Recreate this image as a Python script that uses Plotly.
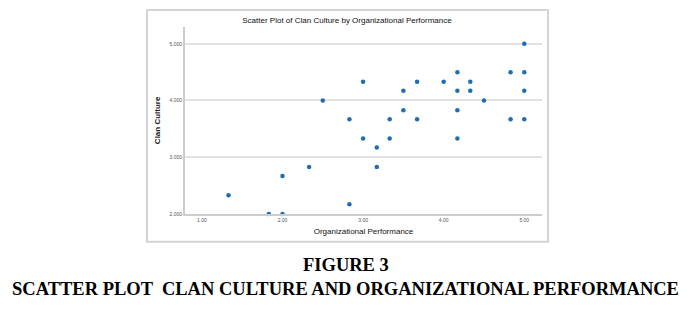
import plotly.graph_objects as go

org_perf = [1.33, 1.83, 2.00, 2.00, 2.33, 2.50, 2.83, 2.83, 3.00, 3.00,
            3.17, 3.17, 3.33, 3.33, 3.50, 3.50, 3.67, 3.67, 4.00, 4.17,
            4.17, 4.17, 4.17, 4.33, 4.33, 4.50, 4.83, 4.83, 5.00, 5.00,
            5.00, 5.00]
clan_culture = [2.33, 2.00, 2.00, 2.67, 2.83, 4.00, 3.67, 2.17, 4.33, 3.33,
                3.17, 2.83, 3.67, 3.33, 4.17, 3.83, 4.33, 3.67, 4.33, 4.50,
                4.17, 3.83, 3.33, 4.33, 4.17, 4.00, 4.50, 3.67, 5.00, 4.50,
                4.17, 3.67]

x_ticks = [1.0, 2.0, 3.0, 4.0, 5.0]
x_tick_labels = ["1.00", "2.00", "3.00", "4.00", "5.00"]
y_ticks = [2.0, 3.0, 4.0, 5.0]
y_tick_labels = ["2.000", "3.000", "4.000", "5.000"]

W, H = 689, 319

def px_x(p):
    return p / W

def px_y(p):
    return 1 - p / H

fig = go.Figure()
fig.add_trace(go.Scatter(
    x=org_perf, y=clan_culture, mode="markers",
    marker=dict(color="#1f6db3", size=4.5, line=dict(width=0)),
    cliponaxis=False, showlegend=False, hoverinfo="x+y",
))

fig.update_layout(
    width=W, height=H,
    margin=dict(l=0, r=0, t=0, b=0),
    paper_bgcolor="white", plot_bgcolor="white",
    xaxis=dict(
        domain=[px_x(185), px_x(542)], range=[0.79, 5.22],
        tickvals=x_ticks, ticktext=x_tick_labels,
        showgrid=False, zeroline=False,
        showline=True, linecolor="#cccccc", linewidth=2,
        ticks="", tickfont=dict(family="Arial, Liberation Sans", size=5, color="#555"),
        title=dict(text="Organizational Performance", standoff=6,
                   font=dict(family="Arial, Liberation Sans", size=8, color="#111")),
    ),
    yaxis=dict(
        domain=[px_y(216), px_y(27)], range=[2.0, 5.3],
        tickvals=y_ticks, ticktext=y_tick_labels,
        showgrid=True, gridcolor="#e2e2e2", gridwidth=1.5,
        zeroline=False,
        showline=True, linecolor="#cccccc", linewidth=2,
        ticks="", tickfont=dict(family="Arial, Liberation Sans", size=5, color="#555"),
        title=dict(text="<b>Clan Culture</b>", standoff=8,
                   font=dict(family="Arial, Liberation Sans", size=8, color="#222")),
    ),
    title=dict(text="Scatter Plot of Clan Culture by Organizational Performance",
               x=px_x(347), y=px_y(20), xanchor="center", yanchor="middle",
               font=dict(family="Arial, Liberation Sans", size=8, color="#111")),
    shapes=[dict(type="rect", xref="paper", yref="paper",
                 x0=px_x(147), x1=px_x(548), y0=px_y(244), y1=px_y(10),
                 line=dict(color="#d4d4d4", width=2), layer="below")],
    annotations=[
        dict(text="<b>FIGURE 3</b>", xref="paper", yref="paper",
             x=px_x(346), y=px_y(268), xanchor="center", yanchor="middle",
             showarrow=False,
             font=dict(family="Liberation Serif, Times New Roman", size=18.5, color="black")),
        dict(text="<b>SCATTER PLOT  CLAN CULTURE AND ORGANIZATIONAL PERFORMANCE</b>",
             xref="paper", yref="paper",
             x=px_x(345.5), y=px_y(292), xanchor="center", yanchor="middle",
             showarrow=False,
             font=dict(family="Liberation Serif, Times New Roman", size=18.5, color="black")),
    ],
)

fig.write_html("out.html")
